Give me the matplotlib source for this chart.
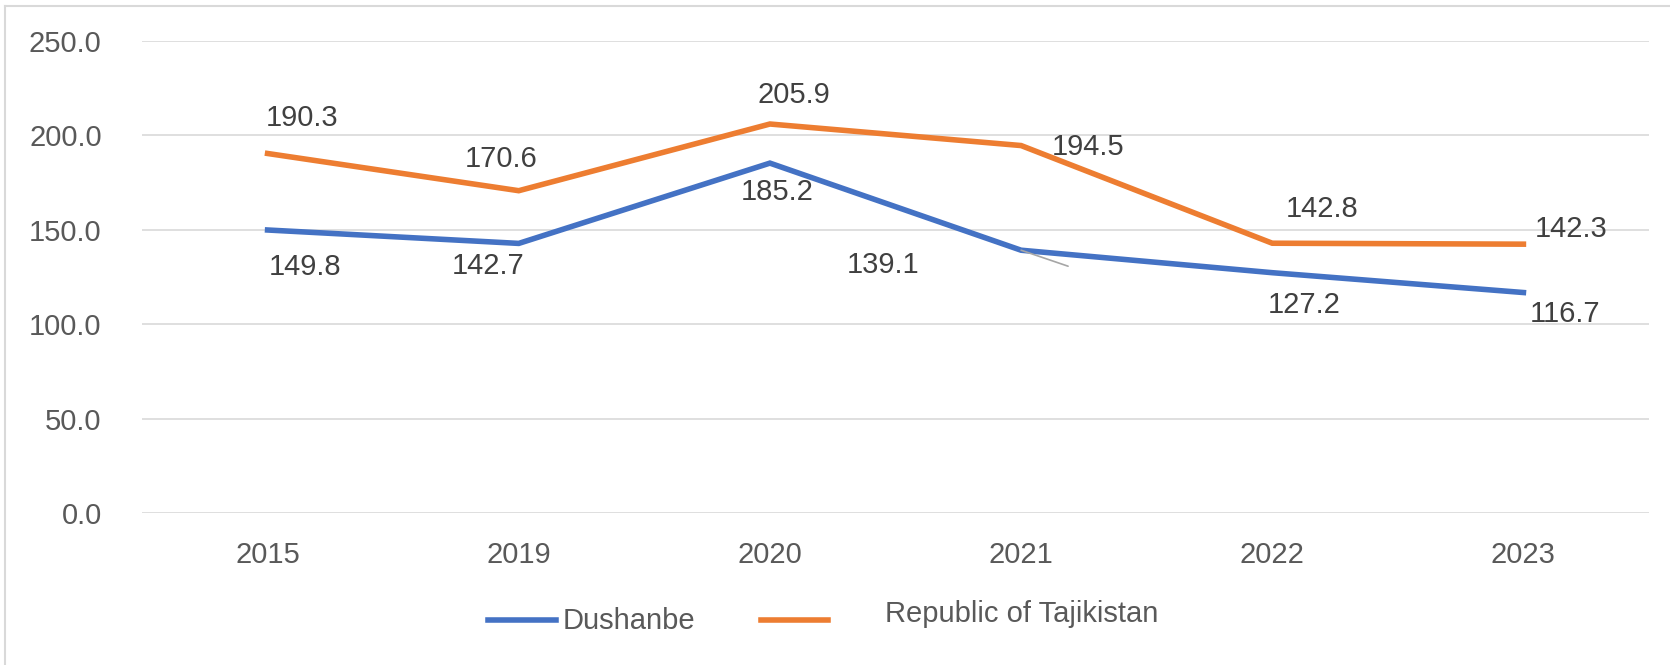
import matplotlib
matplotlib.use("Agg")
import matplotlib.pyplot as plt
from matplotlib.lines import Line2D

# data
years = ["2015", "2019", "2020", "2021", "2022", "2023"]
dushanbe = [149.8, 142.7, 185.2, 139.1, 127.2, 116.7]
tajikistan = [190.3, 170.6, 205.9, 194.5, 142.8, 142.3]
y_ticks = [0, 50, 100, 150, 200, 250]

# label offsets in pixels (dx, dy) from each point to label baseline centre
dush_offsets = [(37, -45), (-31, -31), (7, -37), (-138, -23), (32, -40), (42, -29)]
taj_offsets = [(34, 27), (-18, 24), (24, 21), (67, -9), (50, 26), (48, 7)]

blue = "#4472C4"
orange = "#ED7D31"
grid_col = "#D9D9D9"
tick_col = "#595959"
label_col = "#404040"

plt.rcParams["font.family"] = ["Liberation Sans", "DejaVu Sans"]

W, H = 1670, 665
fig = plt.figure(figsize=(W / 100, H / 100), dpi=100)
ax = fig.add_axes([142 / W, 1 - 513 / H, 1507 / W, 472.3 / H])

x = list(range(len(years)))
ax.plot(x, dushanbe, color=blue, lw=4, solid_joinstyle="miter", zorder=3)
ax.plot(x, tajikistan, color=orange, lw=4, solid_joinstyle="miter", zorder=3)

ax.set_xlim(-0.5, len(years) - 0.5)
ax.set_ylim(0, 250)
ax.set_yticks(y_ticks)
ax.set_yticklabels([f"{v:.1f}" for v in y_ticks])
ax.set_xticks(x)
ax.set_xticklabels(years)
ax.tick_params(axis="y", length=0, pad=29, labelsize=21, labelcolor=tick_col)
ax.tick_params(axis="x", length=0, pad=20, labelsize=21, labelcolor=tick_col)
ax.grid(axis="y", color=grid_col, lw=1.2)
ax.set_axisbelow(True)
for s in ax.spines.values():
    s.set_visible(False)

for xi, v, (dx, dy) in zip(x, dushanbe, dush_offsets):
    ax.annotate(f"{v:.1f}", (xi, v), xytext=(dx, dy), textcoords="offset pixels",
                ha="center", va="baseline", fontsize=21, color=label_col)
for xi, v, (dx, dy) in zip(x, tajikistan, taj_offsets):
    ax.annotate(f"{v:.1f}", (xi, v), xytext=(dx, dy), textcoords="offset pixels",
                ha="center", va="baseline", fontsize=21, color=label_col)

# leader line on the 2021 Dushanbe label
ax.annotate("", (3, dushanbe[3]), xytext=(47, -16), textcoords="offset pixels",
            arrowprops=dict(arrowstyle="-", color="#A6A6A6", lw=1.2,
                            shrinkA=0, shrinkB=0))

# legend, drawn by hand to match the uneven spacing
fig.add_artist(Line2D([488 / W, 556 / W], [1 - 620 / H] * 2, color=blue, lw=4))
fig.text(563 / W, 1 - 629 / H, "Dushanbe", fontsize=21, color=tick_col,
         va="baseline", ha="left")
fig.add_artist(Line2D([761 / W, 828 / W], [1 - 620 / H] * 2, color=orange, lw=4))
fig.text(885 / W, 1 - 622 / H, "Republic of Tajikistan", fontsize=21, color=tick_col,
         va="baseline", ha="left")

# chart frame (only top and left edges are visible)
fig.add_artist(Line2D([5 / W, 1], [1 - 6 / H] * 2, color=grid_col, lw=1.5))
fig.add_artist(Line2D([5 / W] * 2, [0, 1 - 6 / H], color=grid_col, lw=1.5))

fig.savefig("out.png", dpi=100)
